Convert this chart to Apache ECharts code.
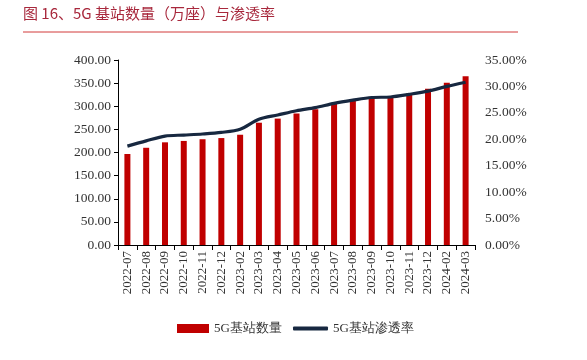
<!DOCTYPE html>
<html><head><meta charset="utf-8">
<script src="https://cdn.jsdelivr.net/npm/echarts@6/dist/echarts.min.js"></script>
<style>html,body{margin:0;padding:0;background:#fff}#c{width:587px;height:360px}</style>
</head><body><div id="c"></div>
<script>
var categories = ['2022-07','2022-08','2022-09','2022-10','2022-11','2022-12','2023-02','2023-03','2023-04','2023-05','2023-06','2023-07','2023-08','2023-09','2023-10','2023-11','2023-12','2024-02','2024-03'];
var stations = [196.8,210.2,222.0,225.0,228.7,231.2,238.4,264.4,273.3,284.4,293.7,305.5,313.3,318.9,321.5,328.2,337.7,350.9,364.7];
var penetration = [18.7,19.7,20.6,20.8,21.0,21.3,21.9,23.8,24.6,25.4,26.0,26.8,27.4,27.9,28.0,28.5,29.1,30.0,30.8];
var leftTicks = {min:0, max:400, interval:50};
var rightTicks = {min:0, max:35, interval:5};

var chart = echarts.init(document.getElementById('c'));
var serif = 'Liberation Serif';
chart.setOption({
  animation:false,
  title:{text:'图 16、5G 基站数量（万座）与渗透率', left:23, top:6, padding:0,
    textStyle:{fontFamily:'Noto Sans CJK SC', fontSize:15, fontWeight:'normal', color:'#a8283c'}},
  graphic:[{type:'line', shape:{x1:23,y1:32,x2:518,y2:32}, style:{stroke:'#d23a3a', lineWidth:1}}],
  legend:[
    {left:177, top:322, padding:0, itemGap:6, itemWidth:32, itemHeight:9,
      textStyle:{fontFamily:serif, fontSize:13, color:'#333'},
      data:[{name:'5G基站数量', icon:'rect'}]},
    {left:293, top:322, padding:0, itemGap:6, itemWidth:35, itemHeight:4,
      textStyle:{fontFamily:serif, fontSize:13, color:'#333'},
      data:[{name:'5G基站渗透率', icon:'roundRect'}]}
  ],
  grid:{left:118, right:112, top:60, bottom:115},
  xAxis:{type:'category', data:categories,
    axisLine:{lineStyle:{color:'#000'}},
    axisTick:{show:true, length:5, lineStyle:{color:'#000'}},
    axisLabel:{rotate:90, interval:0, fontFamily:serif, fontSize:13, color:'#333', margin:6}},
  yAxis:[
    {type:'value', min:leftTicks.min, max:leftTicks.max, interval:leftTicks.interval,
      axisLine:{show:true, lineStyle:{color:'#000'}}, axisTick:{show:true, length:4, lineStyle:{color:'#000'}},
      splitLine:{show:false},
      axisLabel:{formatter:function(v){return v.toFixed(2);}, fontFamily:serif, fontSize:13.5, color:'#333', margin:7}},
    {type:'value', min:rightTicks.min, max:rightTicks.max, interval:rightTicks.interval,
      axisLine:{show:false}, axisTick:{show:false}, splitLine:{show:false},
      axisLabel:{formatter:function(v){return v.toFixed(2)+'%';}, fontFamily:serif, fontSize:13.5, color:'#333', margin:10}}
  ],
  series:[
    {name:'5G基站数量', type:'bar', data:stations, barWidth:6, itemStyle:{color:'#c00000'}},
    {name:'5G基站渗透率', type:'line', yAxisIndex:1, data:penetration, smooth:0.3, showSymbol:false, symbol:'none',
      lineStyle:{color:'#172840', width:3.2}, itemStyle:{color:'#172840'}}
  ]
});
</script></body></html>
